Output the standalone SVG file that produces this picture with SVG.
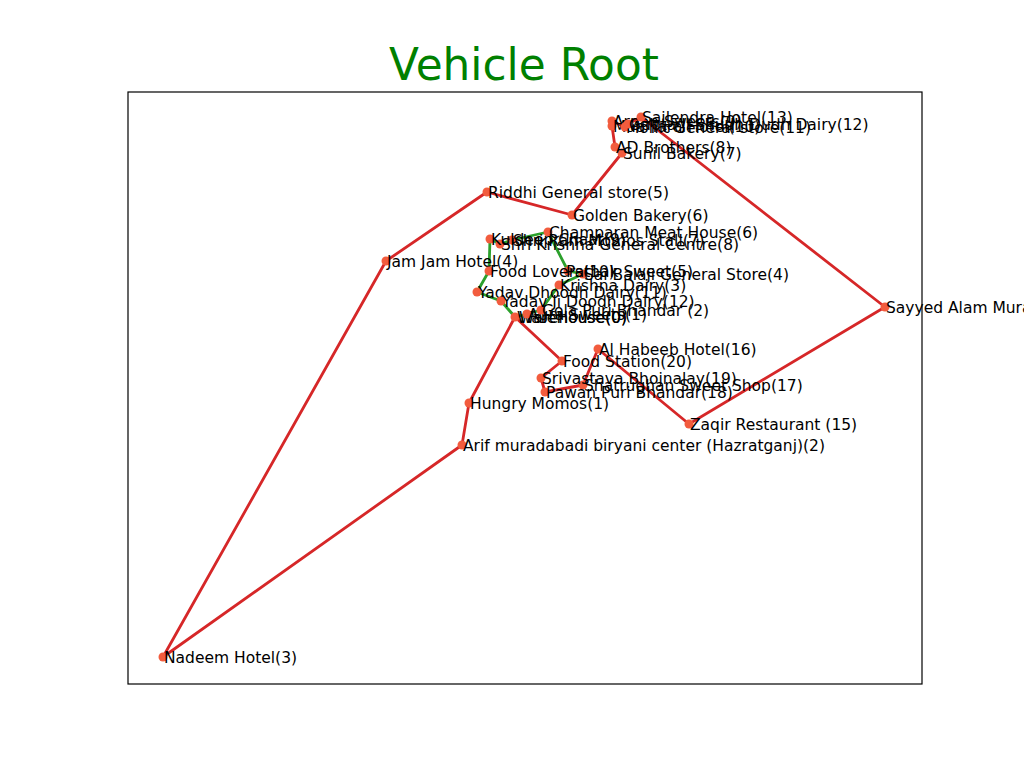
<svg xmlns="http://www.w3.org/2000/svg" width="1024" height="768" viewBox="0 0 1024 768">
<style>
text{font-family:"DejaVu Sans","Liberation Sans",sans-serif}
.lbl{font-size:15.5px;fill:#000}
.n{fill:#f25c3e}
.r{fill:none;stroke:#d62728;stroke-width:2.8;stroke-linejoin:round}
.g{fill:none;stroke:#2ca02c;stroke-width:2.8;stroke-linejoin:round}
</style>
<rect width="1024" height="768" fill="#fff"/>
<text x="524" y="80" text-anchor="middle" font-size="43.8" fill="#008000">Vehicle Root</text>
<rect x="128" y="92" width="794" height="592" fill="none" stroke="#000" stroke-width="1.2"/>
<g id="connectors">
<polyline class="g" points="515,317 527,314 541,310 559,285 583,274 568,271 548,232 512,240 500,244 490,239 489,271 477,292 501,301 515,317"/>
<polyline class="r" points="515,317 469,403 462,445 163,657 386,261 487,192 572,215 622,153 615,147 612,126 612,121 625,127 628,124 641,117 885,307 689,424 598,349 583,385 545,392 541,378 562,361 515,317"/>
</g>
<g id="node-w"><circle class="n" cx="515" cy="317" r="4.5"/><text class="lbl" x="517" y="323">WareHouse(0)</text><text class="lbl" x="519" y="323">Warehouse(0)</text></g>
<g id="node-r1"><circle class="n" cx="469" cy="403" r="4.5"/><text class="lbl" x="470" y="409">Hungry Momos(1)</text></g>
<g id="node-r2"><circle class="n" cx="462" cy="445" r="4.5"/><text class="lbl" x="463" y="451">Arif muradabadi biryani center (Hazratganj)(2)</text></g>
<g id="node-r3"><circle class="n" cx="163" cy="657" r="4.5"/><text class="lbl" x="164" y="663">Nadeem Hotel(3)</text></g>
<g id="node-r4"><circle class="n" cx="386" cy="261" r="4.5"/><text class="lbl" x="387" y="267">Jam Jam Hotel(4)</text></g>
<g id="node-r5"><circle class="n" cx="487" cy="192" r="4.5"/><text class="lbl" x="488" y="198">Riddhi General store(5)</text></g>
<g id="node-r6"><circle class="n" cx="572" cy="215" r="4.5"/><text class="lbl" x="573" y="221">Golden Bakery(6)</text></g>
<g id="node-r7"><circle class="n" cx="622" cy="153" r="4.5"/><text class="lbl" x="623" y="159">Sunil Bakery(7)</text></g>
<g id="node-r8"><circle class="n" cx="615" cy="147" r="4.5"/><text class="lbl" x="616" y="153">AD Brothers(8)</text></g>
<g id="node-r9"><circle class="n" cx="612" cy="121" r="4.5"/><text class="lbl" x="613" y="127">Arpan Sweets(9)</text></g>
<g id="node-r10"><circle class="n" cx="612" cy="126" r="4.5"/><text class="lbl" x="613" y="132">Maa Tara Hotel(10)</text></g>
<g id="node-r11"><circle class="n" cx="625" cy="127" r="4.5"/><text class="lbl" x="626" y="133">Mohit General store(11)</text></g>
<g id="node-r12"><circle class="n" cx="628" cy="124" r="4.5"/><text class="lbl" x="629" y="130">Gupta Ji Shudh Dudh Dairy(12)</text></g>
<g id="node-r13"><circle class="n" cx="641" cy="117" r="4.5"/><text class="lbl" x="642" y="123">Sailendra Hotel(13)</text></g>
<g id="node-r14"><circle class="n" cx="885" cy="307" r="4.5"/><text class="lbl" x="886" y="313">Sayyed Alam Muradabadi Biryani(14)</text></g>
<g id="node-r15"><circle class="n" cx="689" cy="424" r="4.5"/><text class="lbl" x="690" y="430">Zaqir Restaurant (15)</text></g>
<g id="node-r16"><circle class="n" cx="598" cy="349" r="4.5"/><text class="lbl" x="599" y="355">Al Habeeb Hotel(16)</text></g>
<g id="node-r17"><circle class="n" cx="583" cy="385" r="4.5"/><text class="lbl" x="584" y="391">Shatrughan Sweet Shop(17)</text></g>
<g id="node-r18"><circle class="n" cx="545" cy="392" r="4.5"/><text class="lbl" x="546" y="398">Pawan Puri Bhandar(18)</text></g>
<g id="node-r19"><circle class="n" cx="541" cy="378" r="4.5"/><text class="lbl" x="542" y="384">Srivastava Bhojnalay(19)</text></g>
<g id="node-r20"><circle class="n" cx="562" cy="361" r="4.5"/><text class="lbl" x="563" y="367">Food Station(20)</text></g>
<g id="node-g1"><circle class="n" cx="527" cy="314" r="4.5"/><text class="lbl" x="528" y="320">Agra Sweets(1)</text></g>
<g id="node-g2"><circle class="n" cx="541" cy="310" r="4.5"/><text class="lbl" x="542" y="316">Gola Puri Bhandar (2)</text></g>
<g id="node-g3"><circle class="n" cx="559" cy="285" r="4.5"/><text class="lbl" x="560" y="291">Krishna Dairy(3)</text></g>
<g id="node-g4"><circle class="n" cx="583" cy="274" r="4.5"/><text class="lbl" x="584" y="280">Sai Balaji General Store(4)</text></g>
<g id="node-g5"><circle class="n" cx="568" cy="271" r="4.5"/><text class="lbl" x="566" y="277">Pathak Sweet(5)</text></g>
<g id="node-g6"><circle class="n" cx="548" cy="232" r="4.5"/><text class="lbl" x="549" y="238">Champaran Meat House(6)</text></g>
<g id="node-g7"><circle class="n" cx="512" cy="240" r="4.5"/><text class="lbl" x="513" y="246">Shri Ram Momos Stall(7)</text></g>
<g id="node-g8"><circle class="n" cx="500" cy="244" r="4.5"/><text class="lbl" x="501" y="250">Shri Krishna General Centre(8)</text></g>
<g id="node-g9"><circle class="n" cx="490" cy="239" r="4.5"/><text class="lbl" x="491" y="245">Kuldeep Chaat(9)</text></g>
<g id="node-g10"><circle class="n" cx="489" cy="271" r="4.5"/><text class="lbl" x="490" y="277">Food Lovers(10)</text></g>
<g id="node-g11"><circle class="n" cx="477" cy="292" r="4.5"/><text class="lbl" x="478" y="298">Yadav Dhoodh Dairy(11)</text></g>
<g id="node-g12"><circle class="n" cx="501" cy="301" r="4.5"/><text class="lbl" x="502" y="307">Yadav Ji Doodh Dairy(12)</text></g>
</svg>
